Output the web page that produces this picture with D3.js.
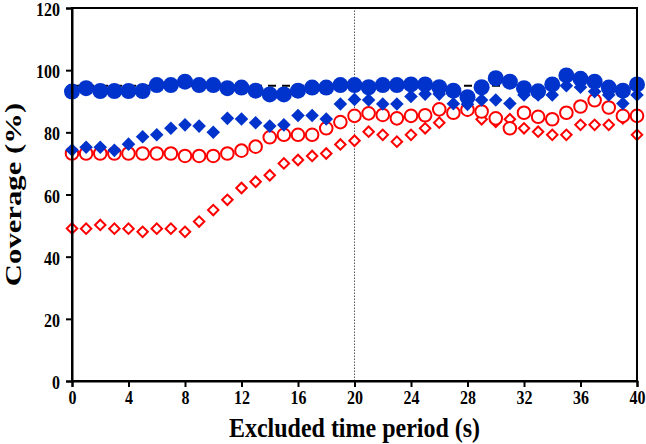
<!DOCTYPE html>
<html>
<head>
<meta charset="utf-8">
<script src="https://cdn.jsdelivr.net/npm/d3@7"></script>
<style>
  body { margin: 0; background: #fff; }
  text { font-family: "Liberation Serif", "Times New Roman", serif; font-weight: bold; }
</style>
</head>
<body>
<div id="container"></div>
<script>
// excluded time period, 0..40 s
const periods = d3.range(0, 41)
const blueCircles = [93.1, 94.2, 93.3, 93.3, 93.3, 93.3, 95.2, 95.2, 96.3, 95.2, 95.2, 94.2, 94.4, 93.4, 92.2, 92.2, 93.4, 94.4, 94.4, 95.2,
    95.2, 94.5, 95.2, 95.2, 95.4, 95.4, 94.5, 93.4, 91.3, 94.5, 97.4, 96.3, 94.2, 93.2, 95.4, 98.3, 97.2, 96.3, 94.4, 93.4, 95.4]
const blueDiamonds = [74.3, 75.2, 75.2, 74.2, 76.2, 78.6, 79.2, 81.3, 82.4, 82, 80, 84.5, 84.3, 83.1, 82, 82.4, 85.4, 85.4, 84.3, 89.1,
    90.6, 90.4, 89.1, 89.1, 91.5, 92.3, 92.3, 89.2, 89, 90.4, 90.4, 89.3, 92, 92, 92, 95, 94.5, 93.1, 92, 89.3, 92]
const redCircles = [73.2, 73.2, 73.2, 73.2, 73.2, 73.2, 73.2, 73.2, 72.4, 72.4, 72.4, 73.2, 74.1, 75.4, 78.4, 79.2, 79.2, 79.2, 81.3, 83.3,
    85.3, 86.1, 85.6, 84.5, 85.3, 85.5, 87.4, 86.3, 87.3, 86.7, 84.5, 81.3, 86.3, 85, 84.2, 86.3, 88.3, 90.3, 88, 85.3, 85.3]
const redDiamonds = [49.1, 49, 50.2, 49, 49, 48, 49, 49, 48, 51.3, 55, 58.3, 62.1, 64.1, 66.2, 70, 71.1, 72.4, 73.2, 76.1,
    77.3, 80.2, 79.2, 77, 79.2, 81.3, 83.1, 86.3, 87, 84.2, 83.4, 84.2, 81.3, 80.2, 79.2, 79.2, 82.4, 82.4, 82.4, 84.5, 79.2]
const xTicks = [0, 4, 8, 12, 16, 20, 24, 28, 32, 36, 40]
const yTicks = [0, 20, 40, 60, 80, 100, 120]
const targetLine = 95
const splitPeriod = 20

const width = 646, height = 444
const margin = {top: 8, right: 9, bottom: 63, left: 72}
// the original figure is stretched vertically, so text is taller than wide
const stretch = 1.18

const svg = d3.select('#container').append('svg')
    .attr('width', width)
    .attr('height', height)

const x = d3.scaleLinear().domain([0, 40]).range([margin.left, width - margin.right])
const y = d3.scaleLinear().domain([0, 120]).range([height - margin.bottom, margin.top])

const blue = '#0033cc', red = '#ff0000'

// reference lines
svg.append('line')
    .attr('x1', x(0)).attr('x2', x(40))
    .attr('y1', y(targetLine)).attr('y2', y(targetLine))
    .attr('stroke', '#000').attr('stroke-width', 2)
    .attr('stroke-dasharray', '8,6')

svg.append('line')
    .attr('x1', x(splitPeriod)).attr('x2', x(splitPeriod))
    .attr('y1', y(0)).attr('y2', y(120))
    .attr('stroke', '#555').attr('stroke-width', 1)
    .attr('stroke-dasharray', '1.5,1.5')

const diamond = d3.symbol().type(d3.symbolSquare)

function drawSeries(values, kind, opts) {
    const g = svg.append('g')
    const pts = values.map((v, i) => [periods[i], v])
    if (kind === 'circle') {
        g.selectAll('circle').data(pts).join('circle')
            .attr('cx', d => x(d[0]))
            .attr('cy', d => y(d[1]))
            .attr('r', opts.r)
            .attr('fill', opts.fill)
            .attr('stroke', opts.stroke)
            .attr('stroke-width', opts.sw)
    } else {
        g.selectAll('path').data(pts).join('path')
            .attr('transform', d => `translate(${x(d[0])},${y(d[1])}) rotate(45)`)
            .attr('d', diamond.size(opts.size))
            .attr('fill', opts.fill)
            .attr('stroke', opts.stroke)
            .attr('stroke-width', opts.sw)
    }
}

drawSeries(redDiamonds, 'diamond', {size: 55, fill: '#fff', stroke: red, sw: 2})
drawSeries(redCircles, 'circle', {r: 6.3, fill: '#fff', stroke: red, sw: 2})
drawSeries(blueDiamonds, 'diamond', {size: 92, fill: blue, stroke: blue, sw: 0})
drawSeries(blueCircles, 'circle', {r: 8, fill: blue, stroke: 'none', sw: 0})

// frame
svg.append('rect')
    .attr('x', x(0)).attr('y', y(120))
    .attr('width', x(40) - x(0)).attr('height', y(0) - y(120))
    .attr('fill', 'none').attr('stroke', '#000').attr('stroke-width', 2)

const yAxis = svg.append('g')
    .attr('transform', `translate(${x(0)},0)`)
    .call(d3.axisLeft(y).tickValues(yTicks).tickSize(6).tickPadding(6))
yAxis.select('.domain').attr('stroke-width', 2)
yAxis.selectAll('.tick line').attr('stroke-width', 2)
yAxis.selectAll('text')
    .attr('font-size', 16).attr('fill', '#000')
    .attr('dy', '0.4em')
    .attr('transform', `scale(1,${stretch})`)

const xAxis = svg.append('g')
    .attr('transform', `translate(0,${y(0)})`)
    .call(d3.axisBottom(x).tickValues(xTicks).tickSize(6))
xAxis.select('.domain').attr('stroke-width', 2)
xAxis.selectAll('.tick line').attr('stroke-width', 2)
xAxis.selectAll('text')
    .attr('font-size', 16).attr('fill', '#000')
    .attr('y', 8.5)
    .attr('transform', `scale(1,${stretch})`)

svg.append('text')
    .attr('transform', `translate(${(x(0) + x(40)) / 2},437) scale(1,1.18)`)
    .attr('text-anchor', 'middle')
    .attr('font-size', 24)
    .text('Excluded time period (s)')

svg.append('text')
    .attr('transform', `translate(21,${(y(0) + y(120)) / 2}) rotate(-90) scale(1.28,1)`)
    .attr('text-anchor', 'middle')
    .attr('font-size', 24)
    .text('Coverage (%)')
</script>
</body>
</html>
